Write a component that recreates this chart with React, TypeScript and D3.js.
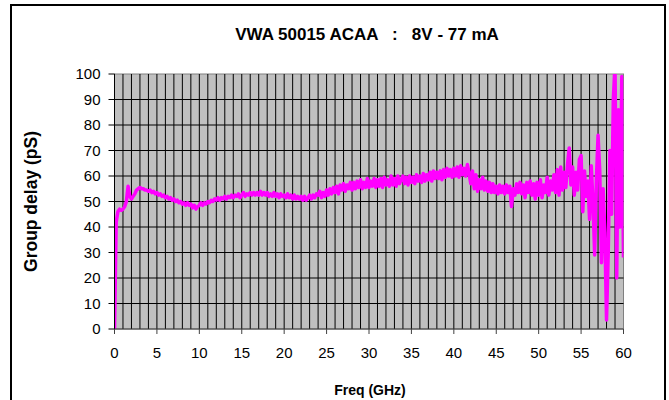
import React from 'react';
import * as d3 from 'd3';

const title = 'VWA 50015 ACAA   :   8V - 77 mA';
const xAxisTitle = 'Freq (GHz)';
const yAxisTitle = 'Group delay (pS)';
const xTickValues = [0, 5, 10, 15, 20, 25, 30, 35, 40, 45, 50, 55, 60];
const yTickValues = [0, 10, 20, 30, 40, 50, 60, 70, 80, 90, 100];
const xGridValues = d3.range(1, 60, 1);
const yGridValues = [10, 20, 30, 40, 50, 60, 70, 80, 90];

// Frequency samples (GHz), 0.2 GHz apart
const freqStart = 0;
const freqStep = 0.2;
// Group delay (pS), 5 samples per GHz
const groupDelay = [
  0, 42, 46, 47, 46.5,
  47, 48, 50, 56, 52,
  51, 52, 53, 54.5, 55,
  55.5, 55, 55, 54.5, 54.5,
  54, 54.5, 53.5, 54, 53,
  53.5, 52.5, 53, 52, 52.5,
  51.5, 52, 51, 51.5, 50.5,
  51, 50, 50.5, 49.5, 50,
  49, 49.5, 48.5, 49.5, 48.5,
  49, 47.5, 48.5, 47, 48,
  48.5, 49.5, 48.5, 49.5, 49,
  50, 49.5, 50.5, 50, 51,
  50.5, 51.5, 50.5, 51.5, 51,
  52, 51, 52, 51.5, 52.5,
  51.5, 52.5, 52, 53, 51.5,
  52.5, 53.5, 52, 53, 52.5,
  53.5, 52.5, 53.5, 52.5, 53.5,
  52.5, 54, 52.5, 53.5, 52.5,
  53.5, 52, 53, 52, 53.5,
  52, 53, 51.5, 53, 52,
  52.5, 51.5, 53, 51.5, 52.5,
  51, 52.5, 51, 52, 51,
  52, 50.5, 52, 50.5, 51.5,
  52.5, 51, 52.5, 51.5, 53,
  52.5, 54, 51.5, 53.5, 52,
  54.5, 52.5, 55, 53, 55.5,
  53.5, 56, 53, 56.5, 54.5,
  57, 54, 56.5, 55, 57.5,
  54.5, 57.5, 55, 58, 55.5,
  58.5, 55, 57.5, 55.5, 59,
  55.5, 58, 56, 59, 55.5,
  58.5, 56, 59, 55.5, 59.5,
  56.5, 58.5, 56, 60, 56.5,
  59, 56, 60, 57, 58.5,
  60, 57, 59.5, 56.5, 60,
  57.5, 59.5, 57, 60.5, 58,
  60, 57.5, 61, 58, 60.5,
  58.5, 61.5, 58, 62, 59,
  61.5, 59, 62, 58.5, 62.5,
  59.5, 63, 60, 62.5, 59.5,
  63, 60, 63.5, 59.5, 64,
  60.5, 63, 60, 64.5, 61,
  57, 62, 55, 60.5, 54,
  58.5, 55, 59.5, 54.5, 58,
  54, 57.5, 53.5, 57, 53.5,
  56, 53, 56.5, 53.5, 56,
  53, 56.5, 53.5, 56, 48,
  55, 52.5, 57, 53.5, 57.5,
  53, 56.5, 51.5, 57.5, 53.5,
  58, 52.5, 57, 51, 57.5,
  52.5, 58.5, 51.5, 56.5, 53.5,
  59.5, 52.5, 58, 54.5, 60.5,
  53.5, 62.5, 52.5, 63.5, 54.5,
  61.5, 55.5, 64.5, 71, 56.5,
  63.5, 52.5, 61.5, 54.5, 66.5,
  68, 46, 62, 52, 58,
  43, 64, 50, 29, 58,
  76, 62, 26, 55, 38,
  3.5, 30, 70, 45, 90,
  104, 20, 86, 40, 99,
  28,
];

const W = 669;
const H = 400;
const plot = { left: 114.5, right: 623.5, top: 74, bottom: 329 };
const FONT = '"Liberation Sans", Arial, sans-serif';

export default function App() {
  const x = d3.scaleLinear().domain([0, 60]).range([plot.left, plot.right]);
  const y = d3.scaleLinear().domain([0, 100]).range([plot.bottom, plot.top]);
  const points: [number, number][] = groupDelay.map((v, i) => [freqStart + i * freqStep, v]);
  const line = d3
    .line<[number, number]>()
    .x((d) => x(d[0]))
    .y((d) => y(d[1]));
  const cx = (plot.left + plot.right) / 2;

  return (
    <svg
      width={W}
      height={H}
      style={{ position: 'absolute', left: 0, top: 0, background: '#fff' }}
      fontFamily={FONT}
    >
      <defs>
        <clipPath id="plotClip">
          <rect x={plot.left} y={plot.top} width={plot.right - plot.left} height={plot.bottom - plot.top} />
        </clipPath>
      </defs>
      <rect x={11} y={5} width={654} height={400} fill="#fff" stroke="#000" strokeWidth={2} />
      <text x={cx - 2} y={40} textAnchor="middle" fontSize={17} fontWeight="bold" style={{ whiteSpace: 'pre' }}>
        {title}
      </text>
      <rect
        x={plot.left}
        y={plot.top}
        width={plot.right - plot.left}
        height={plot.bottom - plot.top}
        fill="#C0C0C0"
        stroke="#808080"
        strokeWidth={1}
      />
      {xGridValues.map((v) => (
        <line key={'gx' + v} x1={x(v)} x2={x(v)} y1={plot.top} y2={plot.bottom} stroke="#000" strokeWidth={1} />
      ))}
      {yGridValues.map((v) => (
        <line key={'gy' + v} x1={plot.left} x2={plot.right} y1={y(v)} y2={y(v)} stroke="#000" strokeWidth={1} />
      ))}
      <path d={line(points) || ''} fill="none" stroke="#FF00FF" strokeWidth={3.5} clipPath="url(#plotClip)" strokeLinejoin="round" />
      <line x1={plot.left} x2={plot.left} y1={plot.top} y2={plot.bottom} stroke="#000" strokeWidth={1} />
      <line x1={plot.left} x2={plot.right} y1={plot.bottom} y2={plot.bottom} stroke="#404040" strokeWidth={1} />
      {yTickValues.map((v) => (
        <g key={'ty' + v}>
          <line x1={plot.left - 6} x2={plot.left} y1={y(v)} y2={y(v)} stroke="#000" strokeWidth={1} />
          <text x={plot.left - 14} y={y(v)} dy="0.35em" textAnchor="end" fontSize={15}>
            {v}
          </text>
        </g>
      ))}
      {xTickValues.map((v) => (
        <g key={'tx' + v}>
          <line x1={x(v)} x2={x(v)} y1={plot.bottom} y2={plot.bottom + 5} stroke="#404040" strokeWidth={1} />
          <text x={x(v)} y={353} dy="0.35em" textAnchor="middle" fontSize={15}>
            {v}
          </text>
        </g>
      ))}
      <text x={cx + 1} y={395} textAnchor="middle" fontSize={14} fontWeight="bold">
        {xAxisTitle}
      </text>
      <text
        transform={`translate(37, ${(plot.top + plot.bottom) / 2}) rotate(-90)`}
        textAnchor="middle"
        fontSize={17.5}
        fontWeight="bold"
      >
        {yAxisTitle}
      </text>
    </svg>
  );
}
